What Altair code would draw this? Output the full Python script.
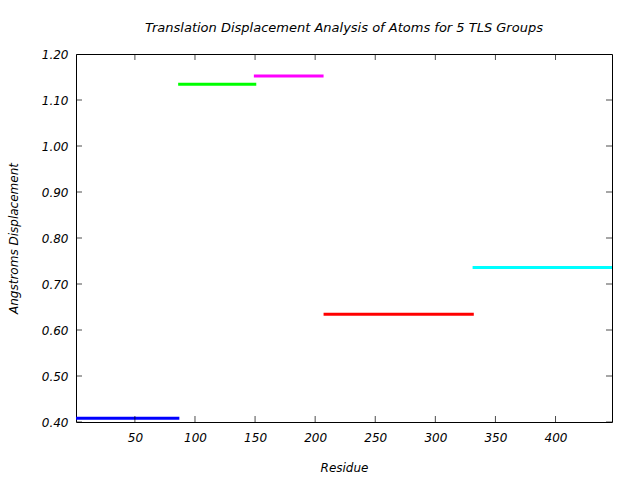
import altair as alt
import pandas as pd

groups = ["TLS1", "TLS2", "TLS3", "TLS4", "TLS5"]
starts = [1, 86, 149, 207, 331]
ends = [87, 151, 207, 332, 447]
values = [0.408, 1.134, 1.152, 0.634, 0.736]
colors = ["#0000ff", "#00ff00", "#ff00ff", "#ff0000", "#00ffff"]

x_ticks = [50, 100, 150, 200, 250, 300, 350, 400]
y_ticks = [0.4, 0.5, 0.6, 0.7, 0.8, 0.9, 1.0, 1.1, 1.2]
X_MIN, X_MAX = 1, 447
Y_MIN, Y_MAX = 0.4, 1.2

FONT = "DejaVu Sans"

df = pd.DataFrame({"group": groups, "start": starts, "end": ends, "value": values})

xs = alt.Scale(domain=[X_MIN, X_MAX], nice=False, zero=False)
ys = alt.Scale(domain=[Y_MIN, Y_MAX], nice=False, zero=False)

segs = alt.Chart(df).mark_rule(strokeWidth=3, strokeCap="butt").encode(
    x=alt.X("start:Q", scale=xs, title="Residue",
            axis=alt.Axis(values=x_ticks, ticks=False, domain=False, grid=False,
                          labelPadding=10, titlePadding=19, format="d")),
    x2="end:Q",
    y=alt.Y("value:Q", scale=ys, title="Angstroms Displacement",
            axis=alt.Axis(values=y_ticks, ticks=False, domain=False, grid=False,
                          format=".2f", labelPadding=8, titlePadding=21)),
    color=alt.Color("group:N", scale=alt.Scale(domain=groups, range=colors), legend=None),
)

xt_bottom = pd.DataFrame({"x": x_ticks, "y": [Y_MIN] * len(x_ticks)})
xt_top = pd.DataFrame({"x": x_ticks, "y": [Y_MAX] * len(x_ticks)})
yt_left = pd.DataFrame({"x": [X_MIN] * len(y_ticks), "y": y_ticks})
yt_right = pd.DataFrame({"x": [X_MAX] * len(y_ticks), "y": y_ticks})

def vt(d):
    return alt.Chart(d).mark_tick(orient="vertical", size=12, thickness=1, color="black", clip=True).encode(
        x=alt.X("x:Q", scale=xs), y=alt.Y("y:Q", scale=ys))

def ht(d):
    return alt.Chart(d).mark_tick(orient="horizontal", size=12, thickness=1, color="black", clip=True).encode(
        x=alt.X("x:Q", scale=xs), y=alt.Y("y:Q", scale=ys))

chart = alt.layer(segs, vt(xt_bottom), vt(xt_top), ht(yt_left), ht(yt_right)).properties(
    width=536, height=368,
    background="white",
    title=alt.Title("Translation Displacement Analysis of Atoms for 5 TLS Groups",
                    font=FONT, fontSize=13, fontStyle="italic", fontWeight="normal",
                    color="black", anchor="middle", offset=13),
    autosize=alt.AutoSizeParams(type="none"),
    padding={"left": 76, "top": 54, "right": 28, "bottom": 58},
).configure_view(stroke="black", strokeWidth=1).configure_axis(
    labelFont=FONT, labelFontSize=12, labelFontStyle="italic", labelColor="black",
    titleFont=FONT, titleFontSize=12, titleFontStyle="italic", titleFontWeight="normal",
    titleColor="black",
)

chart.save("out.html", embed_options={"renderer": "svg", "actions": False})
